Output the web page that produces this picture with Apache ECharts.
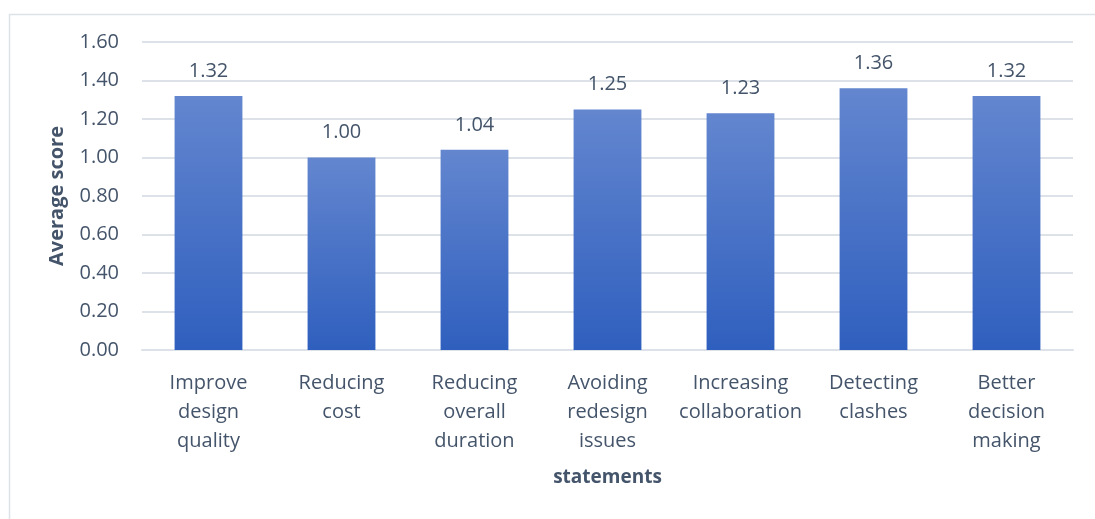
<!DOCTYPE html>
<html>
<head>
<meta charset="utf-8">
<script src="https://cdn.jsdelivr.net/npm/echarts@6/dist/echarts.min.js"></script>
<style>
html,body{margin:0;padding:0;background:#fff;}
#main{width:1095px;height:519px;}
</style>
</head>
<body>
<div id="main"></div>
<script>
var categories = ["Improve\ndesign\nquality", "Reducing\ncost", "Reducing\noverall\nduration", "Avoiding\nredesign\nissues", "Increasing\ncollaboration", "Detecting\nclashes", "Better\ndecision\nmaking"];
var values = [1.32, 1.00, 1.04, 1.25, 1.23, 1.36, 1.32];
var yTicks = {min: 0, max: 1.6, interval: 0.2};

var textColor = '#44546a';
var fontFam = '"Open Sans", "Noto Sans", sans-serif';
var chart = echarts.init(document.getElementById('main'));
chart.setOption({
  backgroundColor: '#fff',
  animation: false,
  graphic: [{
    type: 'rect', left: 7, top: 12,
    shape: {width: 1200, height: 600},
    style: {fill: 'none', stroke: '#dde2e8', lineWidth: 1.5},
    silent: true, z: -1
  }],
  grid: {left: 142, right: 22, top: 42, bottom: 169, containLabel: false},
  xAxis: {
    type: 'category',
    data: categories,
    name: 'statements',
    nameLocation: 'middle',
    nameGap: 118,
    nameTextStyle: {color: textColor, fontFamily: fontFam, fontSize: 19, fontWeight: 'bold'},
    axisLine: {show: true, lineStyle: {color: '#dde2e8', width: 2}},
    axisTick: {show: false},
    axisLabel: {color: textColor, fontFamily: fontFam, fontSize: 20, lineHeight: 29, margin: 19, interval: 0}
  },
  yAxis: {
    type: 'value',
    min: yTicks.min, max: yTicks.max, interval: yTicks.interval,
    name: 'Average score',
    nameLocation: 'middle',
    nameGap: 75,
    nameTextStyle: {color: textColor, fontFamily: fontFam, fontSize: 20, fontWeight: 'bold'},
    axisLine: {show: false},
    axisTick: {show: false},
    splitLine: {lineStyle: {color: '#dde2e8', width: 2}},
    axisLabel: {color: textColor, fontFamily: fontFam, fontSize: 20, margin: 23,
      formatter: function (v) { return v.toFixed(2); }}
  },
  series: [{
    type: 'bar',
    data: values,
    barWidth: '51%',
    itemStyle: {
      color: new echarts.graphic.LinearGradient(0, 0, 0, 1, [
        {offset: 0, color: '#6386cf'},
        {offset: 1, color: '#2f5fbe'}
      ])
    },
    label: {
      show: true, position: 'top', distance: 15,
      color: textColor, fontFamily: fontFam, fontSize: 20,
      formatter: function (p) { return p.value.toFixed(2); }
    }
  }]
});
</script>
</body>
</html>
